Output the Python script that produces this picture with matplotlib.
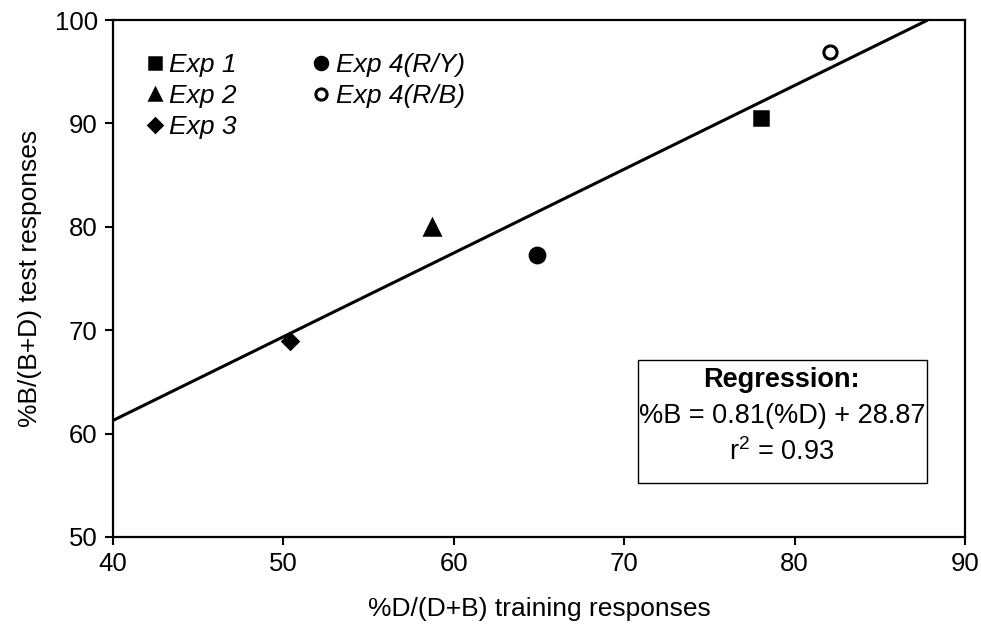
import numpy as np
import matplotlib.pyplot as plt
from matplotlib.patches import Rectangle

plt.rcParams['font.family'] = ['Liberation Sans', 'DejaVu Sans']
plt.rcParams['mathtext.fontset'] = 'custom'
plt.rcParams['mathtext.rm'] = 'Liberation Sans'

# data
labels = ['Exp 1', 'Exp 2', 'Exp 3', 'Exp 4(R/Y)', 'Exp 4(R/B)']
x_train = [78.0, 58.7, 50.4, 64.9, 82.1]
y_test = [90.5, 80.0, 69.0, 77.3, 96.9]
markers = ['s', '^', 'D', 'o', 'o']
fills = ['black', 'black', 'black', 'black', 'white']
sizes = [10.5, 11, 8, 11, 9.5]

slope = 0.81
intercept = 28.87
r2 = 0.93

fig = plt.figure(figsize=(9.81, 6.33), dpi=100)
ax = fig.add_axes([0.1152, 0.1517, 0.8685, 0.8167])

# regression line, clipped at the top of the plot
x0 = 40
x1 = (100 - intercept) / slope
ax.plot([x0, x1], [slope * x0 + intercept, slope * x1 + intercept],
        color='black', linewidth=2.2, solid_capstyle='butt', zorder=2)

for lab, xv, yv, m, fc, s in zip(labels, x_train, y_test, markers, fills, sizes):
    ax.plot([xv], [yv], linestyle='none', marker=m, markersize=s,
            markerfacecolor=fc, markeredgecolor='black',
            markeredgewidth=2.2 if fc == 'white' else 1.8,
            label=lab, zorder=3)

ax.set_xlim(40, 90)
ax.set_ylim(50, 100)
ax.set_xticks(np.arange(40, 91, 10))
ax.set_yticks(np.arange(50, 101, 10))
ax.tick_params(axis='both', labelsize=18.5, width=1.5, length=6, direction='out')
ax.tick_params(axis='x', pad=5)
ax.tick_params(axis='y', pad=5)
for sp in ax.spines.values():
    sp.set_linewidth(1.6)

ax.set_xlabel('%D/(D+B) training responses', fontsize=19, labelpad=15)
ax.set_ylabel('%B/(B+D) test responses', fontsize=19, labelpad=9)

# legend: two columns, top left
leg = ax.legend(loc='upper left', ncol=2, frameon=False,
                prop={'style': 'italic', 'size': 19},
                handletextpad=0.05, columnspacing=2.7, labelspacing=0.26,
                borderaxespad=0.6, markerscale=0.85, handlelength=1.0,
                bbox_to_anchor=(0.0024, 0.987))

# regression box
ax.add_patch(Rectangle((0.616, 0.1044), 0.339, 0.2376, transform=ax.transAxes,
                       facecolor='white', edgecolor='black', linewidth=1.0,
                       zorder=4))
box_x = 0.785
ax.text(box_x, 0.3037, 'Regression:', transform=ax.transAxes, fontsize=19.5,
        fontweight='bold', ha='center', va='center', zorder=5)
ax.text(box_x, 0.234, '%B = 0.81(%D) + 28.87', transform=ax.transAxes,
        fontsize=19.5, ha='center', va='center', zorder=5)
ax.text(box_x, 0.165, r'r$^2$ = %.2f' % r2, transform=ax.transAxes,
        fontsize=19.5, ha='center', va='center', zorder=5)

fig.savefig('out.png', dpi=100)
